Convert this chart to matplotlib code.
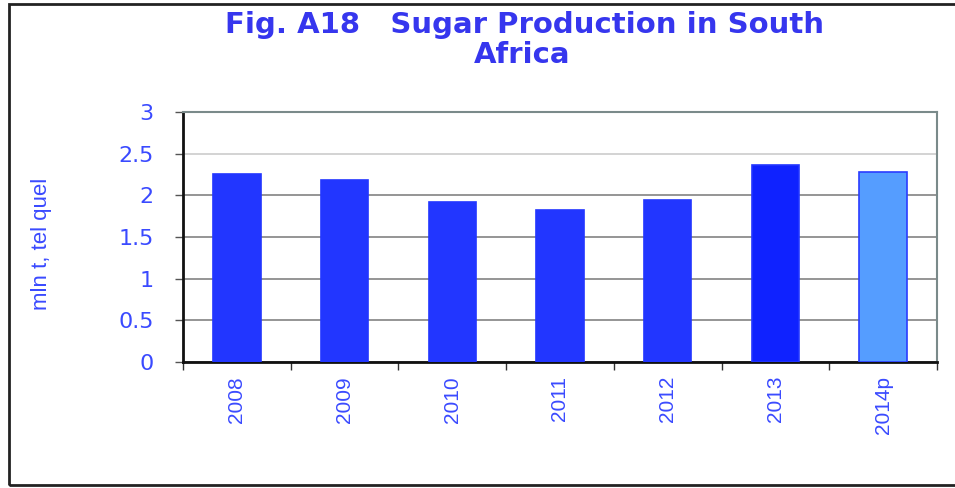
import matplotlib.pyplot as plt
from matplotlib.patches import Rectangle

# Sugar production in South Africa (mln t, tel quel)
years = ['2008', '2009', '2010', '2011', '2012', '2013', '2014p']
production = [2.26, 2.18, 1.92, 1.82, 1.95, 2.36, 2.28]
bar_colors = ['#2236ff', '#2236ff', '#2236ff', '#2236ff', '#2236ff', '#0f22ff', '#559dff']
y_ticks = [0, 0.5, 1, 1.5, 2, 2.5, 3]
y_tick_labels = ['0', '0.5', '1', '1.5', '2', '2.5', '3']

plt.rcParams['font.family'] = ['Liberation Sans', 'DejaVu Sans']
blue_txt = '#3a4aff'

fig = plt.figure(figsize=(9.55, 4.88), dpi=100)
ax = fig.add_axes([183 / 955, 126 / 488, 754 / 955, 250 / 488])

x = range(len(years))
ax.bar(x, production, width=0.44, color=bar_colors,
       edgecolor=['#2236ff'] * 6 + ['#2a3cff'], linewidth=1.2, zorder=3)

ax.set_xlim(-0.5, len(years) - 0.5)
ax.set_ylim(0, 3)

# y axis (wider font, the original is stretched sideways)
ax.set_yticks(y_ticks)
ax.set_yticklabels(y_tick_labels, fontfamily='DejaVu Sans')
ax.tick_params(axis='y', direction='out', length=6, width=1, color='#555555',
               pad=15, labelsize=16, labelcolor=blue_txt)

# x axis: labels at centres, tick marks at category boundaries
ax.set_xticks(list(x))
ax.set_xticklabels(years, rotation=90)
ax.tick_params(axis='x', which='major', length=0, pad=10,
               labelsize=15, labelcolor=blue_txt)
ax.set_xticks([i - 0.5 for i in range(len(years) + 1)], minor=True)
ax.tick_params(axis='x', which='minor', direction='out', length=6, width=1,
               color='#333333')

# gridlines
ax.yaxis.grid(True, color='#8c8c8c', linewidth=1.3, zorder=0)
ax.set_axisbelow(True)
ax.get_ygridlines()[5].set_color('#d0d0d0')

# spines
for side in ['left', 'bottom']:
    ax.spines[side].set_color('#111111')
    ax.spines[side].set_linewidth(2)
for side in ['top', 'right']:
    ax.spines[side].set_color('#7a8a8a')
    ax.spines[side].set_linewidth(1.5)

fig.text(41 / 955, 0.5, 'mln t, tel quel', rotation=90, ha='center',
         va='center', fontsize=16, color=blue_txt)

title_kw = dict(ha='center', va='baseline', fontsize=21, fontweight='bold',
                color='#3636ee', fontfamily='DejaVu Sans')
fig.text(524 / 955, 1 - 33 / 488, 'Fig. A18   Sugar Production in South', **title_kw)
fig.text(522 / 955, 1 - 63 / 488, 'Africa', **title_kw)

# outer frame around the whole chart
fig.patches.append(Rectangle((9 / 955, 3 / 488), 960 / 955, 481 / 488,
                             transform=fig.transFigure, fill=False,
                             edgecolor='#222222', linewidth=2))

fig.savefig('out.png', dpi=100)
